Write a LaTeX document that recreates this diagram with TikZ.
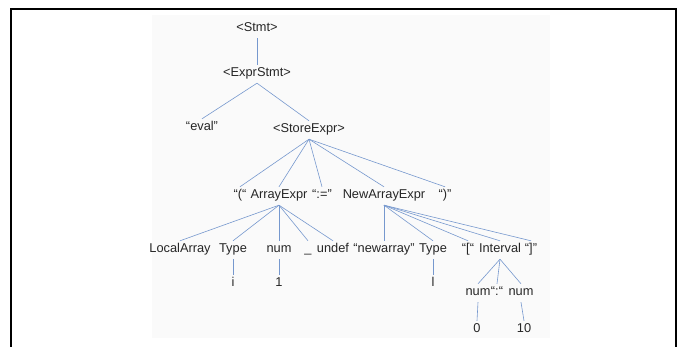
\documentclass[tikz,border=0pt]{standalone}
\usepackage{fontspec}
\setmainfont{Liberation Sans}
\usepackage{tikz}
\usetikzlibrary{positioning}

\definecolor{linkblue}{RGB}{118,152,206}

\begin{document}
\begin{tikzpicture}[
  x=1pt, y=-1pt,
  sym/.style  = {anchor=base, inner sep=3pt, text height=9pt, text depth=3pt,
                 font=\fontsize{12.8}{14}\selectfont, text=black!85},
  link/.style = {draw=linkblue, line width=0.6pt}
]
  \useasboundingbox (0,0) rectangle (686,347);

  % pasted picture area and frame
  \fill[black!2] (152,15) rectangle (550,338);
  \draw[line width=2pt] (11,350) -- (11,9) -- (676,9) -- (676,350);

  % Root and statement
  \node[sym] (stmt)     at (257,32)  {<Stmt>};
  \node[sym] (exprstmt) at (257,77)  {<ExprStmt>};
  \node[sym] (eval)     at (202,131) {“eval”};
  \node[sym] (store)    at (309,133) {<StoreExpr>};

  % StoreExpr row
  \node[sym] (lpar)    at (240,199) {“(“};
  \node[sym] (arrexpr) at (279,199) {ArrayExpr};
  \node[sym] (assign)  at (322,199) {“:=”};
  \node[sym] (newarr)  at (384,199) {NewArrayExpr};
  \node[sym] (rpar)    at (445,199) {“)”};

  % ArrayExpr row
  \node[sym] (local)   at (180,253) {LocalArray};
  \node[sym] (typea)   at (233,253) {Type};
  \node[sym] (numa)    at (279,253) {num};
  \node[sym] (uscore)  at (308,253) {\_};
  \node[sym] (undef)   at (333,253) {undef};

  % NewArrayExpr row
  \node[sym] (kwnew)   at (384,253) {“newarray”};
  \node[sym] (typeb)   at (433,253) {Type};
  \node[sym] (lbrack)  at (468,253) {“[“};
  \node[sym] (interv)  at (500,253) {Interval};
  \node[sym] (rbrack)  at (531,253) {“]”};

  % leaves
  \node[sym] (vi)     at (233,287) {i};
  \node[sym] (vone)   at (279,287) {1};
  \node[sym] (vl)     at (433,287) {l};
  \node[sym] (numlo)  at (478,296) {num};
  \node[sym] (colon)  at (497,296) {“:“};
  \node[sym] (numhi)  at (521,296) {num};
  \node[sym] (vzero)  at (477,333) {0};
  \node[sym] (vten)   at (524,333) {10};

  % Connections
  \draw[link] (stmt.south) -- (exprstmt.north);
  \draw[link] (exprstmt.south) -- (eval.north);
  \draw[link] (exprstmt.south) -- (store.north);
  \foreach \c in {lpar, arrexpr, assign, newarr, rpar}
    \draw[link] (store.south) -- (\c.north);
  \foreach \c in {local, typea, numa, uscore, undef}
    \draw[link] (arrexpr.south) -- (\c.north);
  \foreach \c in {kwnew, typeb, lbrack, interv, rbrack}
    \draw[link] (newarr.south) -- (\c.north);
  \foreach \c in {numlo, colon, numhi}
    \draw[link] (interv.south) -- (\c.north);
  \draw[link] (typea.south) -- (vi.north);
  \draw[link] (numa.south) -- (vone.north);
  \draw[link] (typeb.south) -- (vl.north);
  \draw[link] (numlo.south) -- (vzero.north);
  \draw[link] (numhi.south) -- (vten.north);

\end{tikzpicture}
\end{document}
